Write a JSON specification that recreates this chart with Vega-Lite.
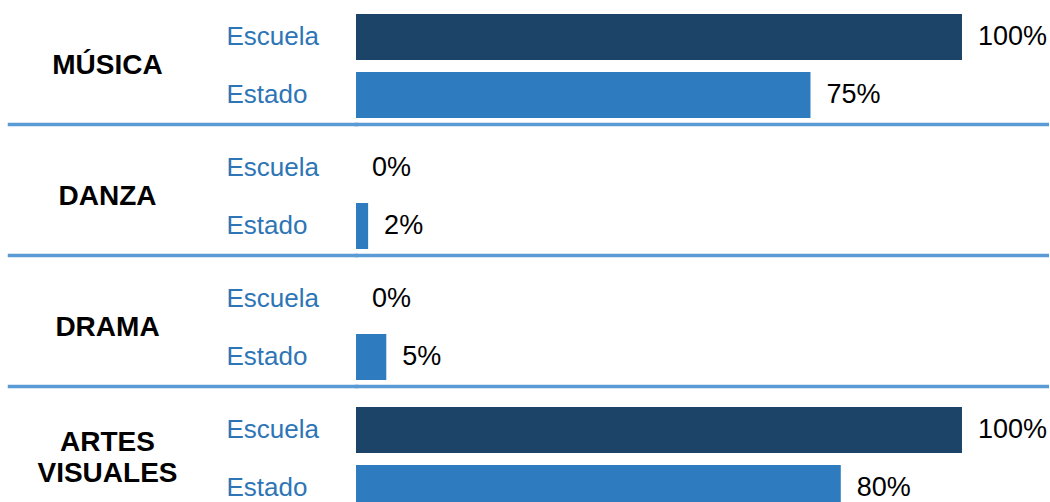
{
  "$schema": "https://vega.github.io/schema/vega-lite/v6.json",
  "width": 693,
  "height": 497,
  "padding": {"left": 6, "top": 13, "right": 0, "bottom": 0},
  "config": {"view": {"stroke": null}, "font": "Liberation Sans"},
  "data": {"values": [
    {"disciplina": "MÚSICA", "tipo": "Escuela", "pct": 1.00},
    {"disciplina": "MÚSICA", "tipo": "Estado", "pct": 0.75},
    {"disciplina": "DANZA", "tipo": "Escuela", "pct": 0.00},
    {"disciplina": "DANZA", "tipo": "Estado", "pct": 0.02},
    {"disciplina": "DRAMA", "tipo": "Escuela", "pct": 0.00},
    {"disciplina": "DRAMA", "tipo": "Estado", "pct": 0.05},
    {"disciplina": "ARTES VISUALES", "tipo": "Escuela", "pct": 1.00},
    {"disciplina": "ARTES VISUALES", "tipo": "Estado", "pct": 0.80}
  ]},
  "layer": [
    {
      "mark": {"type": "bar"},
      "encoding": {
        "y": {"field": "disciplina", "type": "nominal", "sort": null,
          "scale": {"paddingInner": 0.2061, "paddingOuter": 0},
          "axis": {"title": null, "domain": false, "ticks": true, "tickSize": 347, "tickWidth": 3.5, "tickColor": "#5b9bd5", "tickCap": "square",
            "bandPosition": 1.0673, "grid": true, "gridColor": "#5b9bd5", "gridWidth": 3.5, "gridCap": "square",
            "labelAlign": "center", "labelBaseline": "middle", "labelPadding": -98, "labelFontSize": 28,
            "labelFontWeight": "bold", "labelColor": "#000000", "labelLimit": 0, "labelLineHeight": 31,
            "labelOffset": {"condition": {"test": "datum.value == 'ARTES VISUALES'", "value": -15.5}, "value": 0},
            "labelExpr": "datum.value == 'ARTES VISUALES' ? ['ARTES', 'VISUALES'] : datum.value"}},
        "yOffset": {"field": "tipo", "type": "nominal", "sort": ["Escuela", "Estado"], "scale": {"paddingInner": 0.207, "paddingOuter": 0}},
        "x": {"field": "pct", "type": "quantitative", "scale": {"domain": [0, 1.1436], "nice": false}, "axis": null},
        "color": {"field": "tipo", "type": "nominal", "scale": {"domain": ["Escuela", "Estado"], "range": ["#1c4468", "#2e7bc0"]}, "legend": null}
      }
    },
    {
      "mark": {"type": "text", "align": "left", "baseline": "middle", "dx": 16, "fontSize": 27, "color": "#000000"},
      "encoding": {
        "y": {"field": "disciplina", "type": "nominal", "sort": null,
          "axis": {"orient": "left", "title": null, "domain": false, "ticks": false, "grid": false,
            "labelAlign": "left", "labelBaseline": "middle", "labelPadding": 130, "labelFontSize": 26,
            "labelColor": "#2e75b6", "labelLineHeight": 58, "labelLimit": 0, "labelOffset": -29,
            "labelExpr": "['Escuela', 'Estado']"}},
        "yOffset": {"field": "tipo", "type": "nominal", "sort": ["Escuela", "Estado"]},
        "x": {"field": "pct", "type": "quantitative"},
        "text": {"field": "pct", "type": "quantitative", "format": ".0%"}
      }
    }
  ],
  "resolve": {"axis": {"y": "independent"}}
}
